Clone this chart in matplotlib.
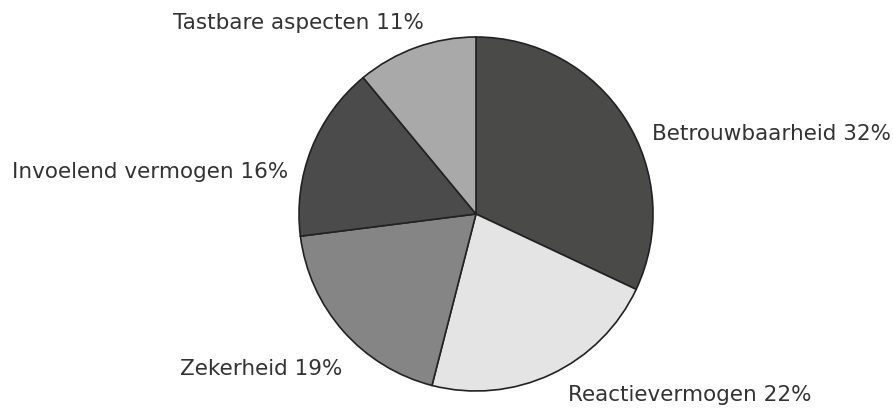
import matplotlib
matplotlib.use("Agg")
import matplotlib.pyplot as plt

categories = ["Betrouwbaarheid", "Reactievermogen", "Zekerheid", "Invoelend vermogen", "Tastbare aspecten"]
values = [32, 22, 19, 16, 11]
colors = ["#4a4a48", "#e4e4e4", "#858585", "#4b4b4b", "#a9a9a9"]

# label anchor positions (pixels, from top-left): left x, center y
label_pos = [(652, 134), (568, 395), (180, 369), (12, 172), (173, 23)]

W, H = 893, 410
fig = plt.figure(figsize=(W / 100, H / 100), dpi=100)
ax = fig.add_axes([0, 0, 1, 1])

cx, cy, r = 476, H - 215, 177
ax.pie(values, colors=colors, startangle=90, counterclock=False,
       center=(cx, cy), radius=r, frame=True,
       wedgeprops=dict(edgecolor="#222222", linewidth=1.2))
ax.set_xlim(0, W)
ax.set_ylim(0, H)
ax.axis("off")

for name, v, (lx, ly) in zip(categories, values, label_pos):
    ax.text(lx, H - ly, f"{name} {v}%", ha="left", va="center",
            fontsize=15.5, color="#333333", family="DejaVu Sans")

fig.savefig("out.png", dpi=100, facecolor="white")
